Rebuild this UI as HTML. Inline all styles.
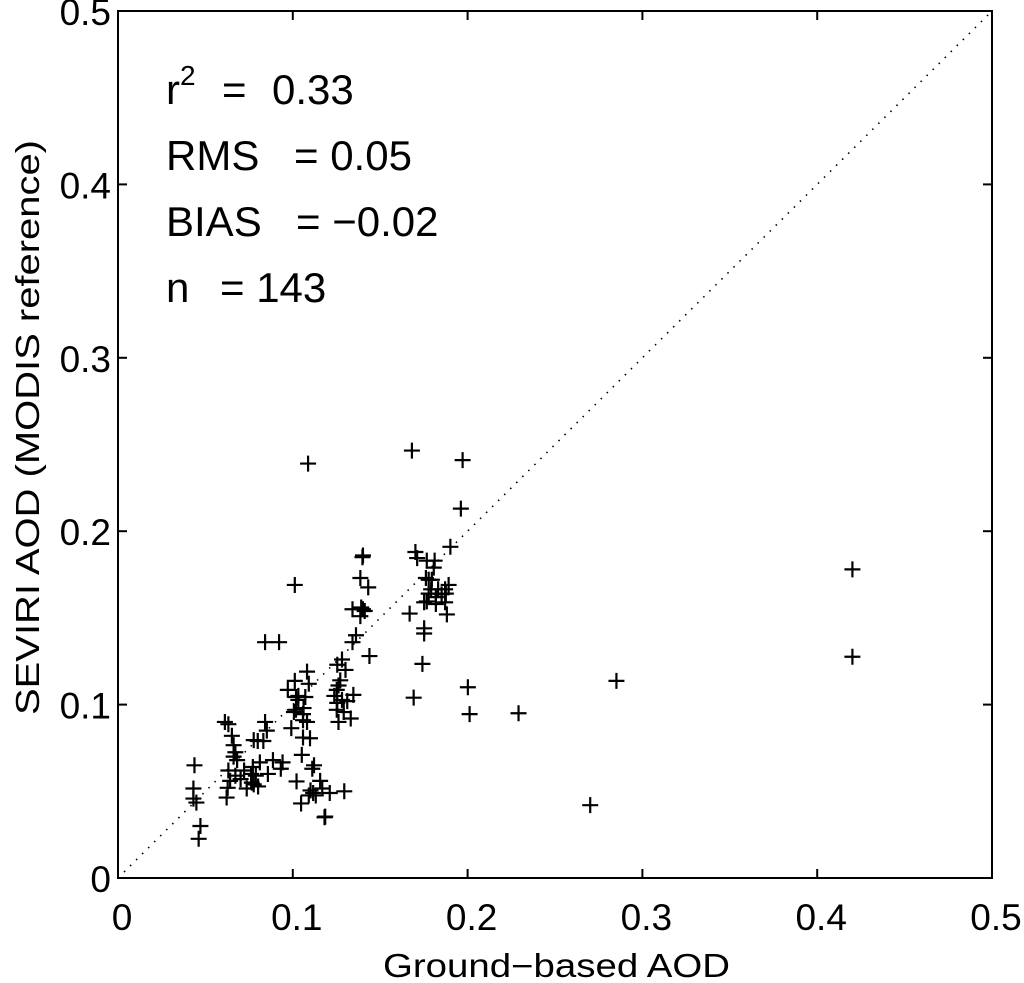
<!DOCTYPE html>
<html><head><meta charset="utf-8"><style>
html,body{margin:0;padding:0;background:#fff;}
svg{display:block;font-family:"Liberation Sans",sans-serif;}
</style></head><body>
<svg id="chart" width="1024" height="983" viewBox="0 0 1024 983">
<rect x="0" y="0" width="1024" height="983" fill="#fff"/>
<g id="ticks"></g>
<line id="diag" stroke="#000" stroke-width="1.6" stroke-dasharray="1.5,7"/>
<g id="points"></g>
<rect x="118" y="11" width="874" height="867" fill="none" stroke="#000" stroke-width="2"/>
<g id="labels" font-size="37"></g>
<text x="383" y="977" font-size="33" textLength="347" lengthAdjust="spacingAndGlyphs">Ground−based AOD</text>
<text transform="translate(39,715) rotate(-90)" font-size="33" textLength="575" lengthAdjust="spacingAndGlyphs">SEVIRI AOD (MODIS reference)</text>
<g font-size="42">
<text x="166" y="104">r<tspan font-size="28" dy="-19">2</tspan><tspan dy="19" x="222">=</tspan><tspan x="272">0.33</tspan></text>
<text x="166" y="170">RMS <tspan x="294">= 0.05</tspan></text>
<text x="166" y="236">BIAS <tspan x="296">= −0.02</tspan></text>
<text x="166" y="302">n <tspan x="220">= 143</tspan></text>
</g>
</svg>
<script>
const xTicks = [0, 0.1, 0.2, 0.3, 0.4, 0.5];
const yTicks = [0, 0.1, 0.2, 0.3, 0.4, 0.5];
const tickLabels = ["0", "0.1", "0.2", "0.3", "0.4", "0.5"];
const groundAOD = [.0426,.042,.042,.0437,.046,.045,.061,.0616,.060,.062,.064,.065,.067,.066,.062,.063,.069,.0725,.076,.075,.0777,.0754,.0765,.079,.080,.082,.083,.083,.0846,.0875,.084,.091,.092,.098,.096,.100,.1007,.102,.0995,.1007,.100,.101,.1036,.104,.1047,.1047,.105,.107,.106,.108,.107,.108,.109,.1105,.112,.1087,.110,.111,.1145,.1157,.117,.1174,.1076,.120,.1226,.124,.124,.1243,.1243,.126,.127,.128,.127,.129,.132,.1335,.133,.135,.1375,.1387,.139,.1375,.142,.138,.140,.1427,.1283,.130,.125,.167,.168,.173,.169,.170,.1755,.175,.178,.1784,.174,.174,.1755,.1807,.1795,.1766,.174,.1766,.180,.182,.184,.1864,.186,.186,.187,.188,.189,.195,.196,.199,.200,.1657,.228,.269,.284,.419,.419,.1807,.133,.139,.125,.065,.071,.0788,.093,.102,.1047,.0765,.066];
const seviriAOD = [.065,.0516,.0458,.0435,.030,.0226,.0464,.052,.090,.0887,.082,.0766,.068,.0725,.062,.056,.057,.0516,.064,.060,.059,.055,.054,.0528,.0667,.079,.136,.090,.060,.068,.085,.136,.063,.0864,.1085,.1137,.1044,.1027,.0957,.097,.169,.0557,.043,.071,.081,.091,.098,.090,.1044,.112,.119,.0476,.0505,.049,.0476,.0806,.063,.065,.056,.0516,.035,.0354,.239,.049,.105,.1085,.097,.101,.123,.114,.1027,.0957,.126,.120,.092,.1056,.136,.140,.151,.185,.186,.173,.1676,.156,.154,.128,.050,.102,.111,.2465,.104,.1235,.188,.1845,.183,.173,.1665,.172,.141,.144,.1595,.158,.179,.172,.159,.164,.183,.1665,.1636,.164,.159,.1665,.152,.169,.191,.213,.241,.110,.0945,.1525,.095,.042,.1137,.178,.1276,.162,.155,.155,.090,.070,.062,.079,.0667,.105,.0945,.0795,.059];

const NS='http://www.w3.org/2000/svg';
const X0=118, X1=992, Y0=878, Y1=11;
const xs = v => X0 + (v-0)/(0.5-0)*(X1-X0) + 2;
const ys = v => Y0 - (v-0)/(0.5-0)*(Y0-Y1);
function mk(tag, attrs, parent){const e=document.createElementNS(NS,tag);for(const k in attrs)e.setAttribute(k,attrs[k]);parent.appendChild(e);return e;}
const tg=document.getElementById('ticks'), lg=document.getElementById('labels'), pg=document.getElementById('points');
xTicks.forEach((t,i)=>{
  const x=X0+(t/0.5)*(X1-X0);
  const a=mk('line',{x1:x,x2:x,y1:Y0,y2:Y0-9,stroke:'#000','stroke-width':2},tg);
  
  
  const b=mk('line',{x1:x,x2:x,y1:Y1,y2:Y1+9,stroke:'#000','stroke-width':2},tg);
  
  
  const l=mk('text',{x:x+4,y:930,'text-anchor':'middle'},lg);
  l.textContent=tickLabels[i];
  
  
});
yTicks.forEach((t,i)=>{
  const y=ys(t);
  const a=mk('line',{x1:X0,x2:X0+9,y1:y,y2:y,stroke:'#000','stroke-width':2},tg);
  
  
  const b=mk('line',{x1:X1,x2:X1-9,y1:y,y2:y,stroke:'#000','stroke-width':2},tg);
  
  
  const l=mk('text',{x:111,y:y+14,'text-anchor':'end'},lg);
  l.textContent=tickLabels[i];
  
  
});
const d=document.getElementById('diag');
d.setAttribute('x1',X0);d.setAttribute('y1',Y0);d.setAttribute('x2',X1);d.setAttribute('y2',Y1);
groundAOD.forEach((gx,i)=>{
  const cx=xs(gx), cy=ys(seviriAOD[i]);
  const p=mk('path',{d:`M${cx-8},${cy}H${cx+8}M${cx},${cy-8}V${cy+8}`,stroke:'#000','stroke-width':2.2,fill:'none'},pg);
  
  
});
</script>
</body></html>
